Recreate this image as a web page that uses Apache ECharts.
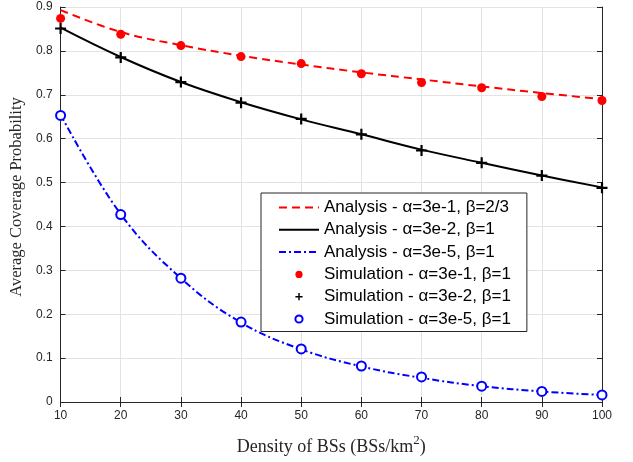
<!DOCTYPE html>
<html>
<head>
<meta charset="utf-8">
<script src="https://cdn.jsdelivr.net/npm/echarts@6/dist/echarts.min.js"></script>
<style>html,body{margin:0;padding:0;background:#fff;}#chart{width:633px;height:462px;}</style>
</head>
<body>
<div id="chart"></div>
<script>
// ---- data ----
const densities = [10, 20, 30, 40, 50, 60, 70, 80, 90, 100];
const analysisA1 = [0.893, 0.843, 0.813, 0.789, 0.769, 0.751, 0.735, 0.719, 0.704, 0.690];
const analysisA2 = [0.853, 0.786, 0.729, 0.683, 0.644, 0.610, 0.575, 0.545, 0.516, 0.489];
const analysisA5 = [0.655, 0.428, 0.282, 0.181, 0.120, 0.081, 0.055, 0.036, 0.024, 0.016];
const simA1 = [0.874, 0.838, 0.812, 0.787, 0.771, 0.748, 0.728, 0.716, 0.696, 0.687];
const simA2 = [0.851, 0.785, 0.729, 0.682, 0.645, 0.610, 0.573, 0.545, 0.516, 0.488];
const simA5 = [0.653, 0.427, 0.282, 0.182, 0.121, 0.082, 0.057, 0.036, 0.024, 0.016];
const seriesNames = [
  'Analysis - α=3e-1, β=2/3',
  'Analysis - α=3e-2, β=1',
  'Analysis - α=3e-5, β=1',
  'Simulation - α=3e-1, β=1',
  'Simulation - α=3e-2, β=1',
  'Simulation - α=3e-5, β=1'
];
const xTitle = 'Density of BSs (BSs/km';
const yTitle = 'Average Coverage Probability';

const pairs = ys => densities.map((x, i) => [x, ys[i]]);
const axisColor = '#262626';
const plusPath = 'path://M0,4H4V0H6V4H10V6H6V10H4V6H0Z';

const chart = echarts.init(document.getElementById('chart'), null, {renderer: 'canvas'});
const baseX = {
  type: 'value', min: 10, max: 100, interval: 10,
  axisLine: {show: true, lineStyle: {color: axisColor, width: 1}},
  axisTick: {show: true, inside: true, length: 5, lineStyle: {color: axisColor}},
  splitLine: {show: false}
};
const baseY = {
  type: 'value', min: 0, max: 0.9, interval: 0.1,
  axisLine: {show: true, lineStyle: {color: axisColor, width: 1}},
  axisTick: {show: true, inside: true, length: 5, lineStyle: {color: axisColor}},
  splitLine: {show: false}
};
const option = {
  backgroundColor: '#fff',
  animation: false,
  grid: {left: 57, right: 31, top: 7, bottom: 51, containLabel: false},
  xAxis: [
    Object.assign({}, baseX, {
      position: 'bottom',
      splitLine: {show: true, lineStyle: {color: '#e3e3e3', width: 1}},
      axisLabel: {color: axisColor, fontFamily: 'Liberation Sans', fontSize: 12, margin: 8},
      name: '{t|' + xTitle + '}{s|2}{t|)}',
      nameLocation: 'middle', nameGap: 32,
      nameTextStyle: {
        rich: {
          t: {fontFamily: 'Liberation Serif', fontSize: 18, color: axisColor, verticalAlign: 'bottom', lineHeight: 22},
          s: {fontFamily: 'Liberation Serif', fontSize: 13, color: axisColor, verticalAlign: 'top', lineHeight: 22, padding: [0, 0, 10, 0]}
        }
      }
    }),
    Object.assign({}, baseX, {position: 'top', axisLabel: {show: false}})
  ],
  yAxis: [
    Object.assign({}, baseY, {
      position: 'left',
      splitLine: {show: true, lineStyle: {color: '#e3e3e3', width: 1}},
      axisLabel: {color: axisColor, fontFamily: 'Liberation Sans', fontSize: 12, margin: 8},
      name: yTitle, nameLocation: 'middle', nameGap: 25,
      nameTextStyle: {fontFamily: 'Liberation Serif', fontSize: 16.5, color: axisColor, padding: [0, 0, 0, 15]}
    }),
    Object.assign({}, baseY, {position: 'right', axisLabel: {show: false}})
  ],
  legend: {
    orient: 'vertical', left: 261, top: 193,
    backgroundColor: '#fff', borderColor: axisColor, borderWidth: 1, borderRadius: 0,
    padding: [6, 16, 4, 17],
    itemWidth: 40, itemHeight: 9, itemGap: 5.3, itemTextGap: 6,
    textStyle: {fontFamily: 'Liberation Sans', fontSize: 17, color: '#000', lineHeight: 17},
    data: [
      {name: seriesNames[0], itemStyle: {opacity: 0}},
      {name: seriesNames[1], itemStyle: {opacity: 0}},
      {name: seriesNames[2], itemStyle: {opacity: 0}},
      {name: seriesNames[3]},
      {name: seriesNames[4]},
      {name: seriesNames[5]}
    ]
  },
  series: [
    {name: seriesNames[0], type: 'line', data: pairs(analysisA1), smooth: 0.4, symbol: 'none', z: 2,
     color: '#ff0000', lineStyle: {color: '#ff0000', width: 2, type: [8, 5]}},
    {name: seriesNames[1], type: 'line', data: pairs(analysisA2), smooth: 0.4, symbol: 'none', z: 2,
     color: '#000000', lineStyle: {color: '#000000', width: 2, type: 'solid'}},
    {name: seriesNames[2], type: 'line', data: pairs(analysisA5), smooth: 0.4, symbol: 'none', z: 2,
     color: '#0000ff', lineStyle: {color: '#0000ff', width: 2, type: [7, 3, 2, 3]}},
    {name: seriesNames[3], type: 'line', data: pairs(simA1), symbol: 'circle', symbolSize: 9, showSymbol: true, z: 3,
     color: '#ff0000', itemStyle: {color: '#ff0000'}, lineStyle: {width: 0, opacity: 0}},
    {name: seriesNames[4], type: 'line', data: pairs(simA2), symbol: plusPath, symbolSize: 11, showSymbol: true, z: 3,
     color: '#000000', itemStyle: {color: '#000000'}, lineStyle: {width: 0, opacity: 0}},
    {name: seriesNames[5], type: 'line', data: pairs(simA5), symbol: 'emptyCircle', symbolSize: 9, showSymbol: true, z: 3,
     color: '#0000ff', itemStyle: {color: '#0000ff', borderColor: '#0000ff', borderWidth: 2.5}, lineStyle: {width: 0, opacity: 0}}
  ]
};
chart.setOption(option);
</script>
</body>
</html>
